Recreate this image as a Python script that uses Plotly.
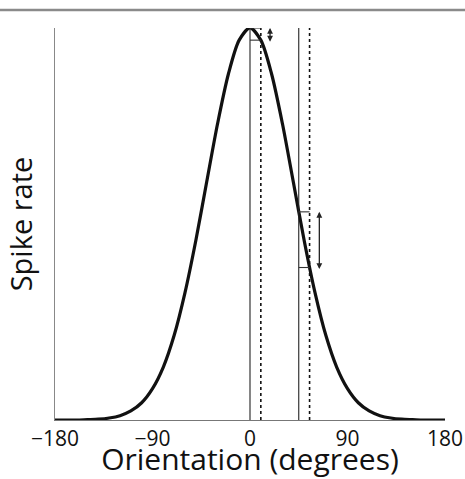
import plotly.graph_objects as go

# Tuning curve (orientation in degrees, normalised spike rate)
angles = [-180, -170, -160, -150, -140, -130, -120, -110, -100, -90, -80, -70, -60, -50,
          -40, -30, -20, -10, 0, 10, 20, 30, 40, 50, 60, 70, 80, 90, 100, 110, 120, 130,
          140, 150, 160, 170, 180]
rates = [0.0, 0.0, 0.0, 0.001, 0.002, 0.005, 0.011, 0.023, 0.044, 0.080, 0.135, 0.216,
         0.325, 0.458, 0.607, 0.755, 0.882, 0.969, 1.0, 0.969, 0.882, 0.755, 0.607, 0.458,
         0.325, 0.216, 0.135, 0.080, 0.044, 0.023, 0.011, 0.005, 0.002, 0.001, 0.0, 0.0, 0.0]

# Reference orientations (solid lines) and shifted orientations (dotted lines)
ref_angles = [0, 45]
shift_angles = [10, 55]
ref_rates = [1.0, 0.531]
shift_rates = [0.969, 0.389]
arrow_angles = [18.5, 64]

xtick_vals = [-180, -90, 0, 90, 180]
xtick_text = ["\u2212180", "\u221290", "0", "90", "180"]

fig = go.Figure()

fig.add_trace(go.Scatter(x=angles, y=rates, mode="lines",
                         line=dict(color="#111111", width=3.2, shape="spline", smoothing=0.8),
                         hoverinfo="skip", showlegend=False))

for a in ref_angles:
    fig.add_trace(go.Scatter(x=[a, a], y=[0, 1], mode="lines",
                             line=dict(color="#222222", width=1.1),
                             showlegend=False, hoverinfo="skip"))
for a in shift_angles:
    fig.add_trace(go.Scatter(x=[a, a], y=[0, 1], mode="lines",
                             line=dict(color="#111111", width=1.6, dash="dot"),
                             showlegend=False, hoverinfo="skip"))

for r, s, rr, sr, aa in zip(ref_angles, shift_angles, ref_rates, shift_rates, arrow_angles):
    for val in (rr, sr):
        fig.add_trace(go.Scatter(x=[r, s], y=[val, val], mode="lines",
                                 line=dict(color="#333333", width=1.1),
                                 showlegend=False, hoverinfo="skip"))
    fig.add_annotation(x=aa, y=sr - 0.004, ax=aa, ay=rr + 0.004,
                       xref="x", yref="y", axref="x", ayref="y",
                       showarrow=True, arrowside="end+start", arrowhead=2,
                       arrowsize=0.9, arrowwidth=1.3, arrowcolor="#222222", text="")

# top grey border line
fig.add_shape(type="line", xref="paper", yref="paper",
              x0=-55/390, x1=410/390, y0=410/392, y1=410/392,
              line=dict(color="#8a8a8a", width=2.5))

font = "Open Sans"
fig.update_layout(
    width=465, height=479,
    margin=dict(l=55, r=20, t=28, b=59),
    plot_bgcolor="white", paper_bgcolor="white",
    font=dict(family=font, color="#111111"),
    xaxis=dict(range=[-180, 180], tickvals=xtick_vals, ticktext=xtick_text,
               showgrid=False, zeroline=False, showline=True, linecolor="#777777",
               linewidth=1, ticks="", tickfont=dict(size=21, family=font),
               automargin=False,
               title=dict(text="Orientation (degrees)", font=dict(size=30, family=font),
                          standoff=2)),
    yaxis=dict(range=[0, 1], showgrid=False, zeroline=False, showline=True,
               linecolor="#888888", linewidth=1, ticks="inside", tickvals=[0, 1],
               ticklen=3, tickcolor="#999999", showticklabels=False,
               automargin=False,
               title=dict(text="Spike rate", font=dict(size=29, family=font), standoff=12)),
)

fig.write_html("out.html", config={"displayModeBar": False},
               post_script="document.body.style.margin='0';document.body.style.overflow='hidden';")
